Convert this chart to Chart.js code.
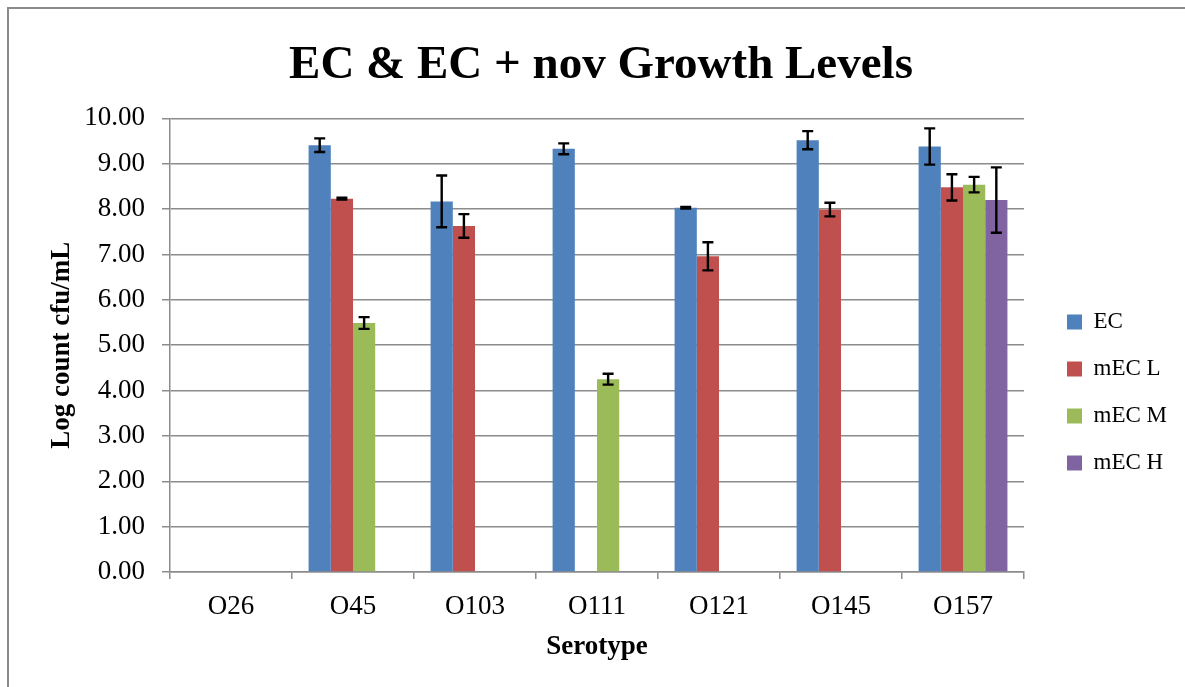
<!DOCTYPE html>
<html>
<head>
<meta charset="utf-8">
<script src="https://cdn.jsdelivr.net/npm/chart.js@4.4.1/dist/chart.umd.min.js"></script>
<style>
  html, body { margin: 0; padding: 0; background: #fff; }
  #frame { position: absolute; left: 7px; top: 7px; right: -4px; bottom: -4px;
           border-left: 2px solid #8a8a8a; border-top: 2px solid #8a8a8a; }
  #wrap { position: absolute; left: 0; top: 0; width: 1185px; height: 687px; }
</style>
</head>
<body>
<div id="frame"></div>
<div id="wrap"><canvas id="chart"></canvas></div>
<script>
// Values
const serotypes = ['O26', 'O45', 'O103', 'O111', 'O121', 'O145', 'O157'];
const ecValues   = [null, 9.41, 8.17, 9.33, 8.03, 9.52, 9.38];
const ecErr      = [null, 0.15, 0.57, 0.12, 0.02, 0.20, 0.40];
const meclValues = [null, 8.23, 7.63, null, 6.96, 7.99, 8.48];
const meclErr    = [null, 0.02, 0.26, null, 0.31, 0.15, 0.29];
const mecmValues = [null, 5.49, null, 4.25, null, null, 8.54];
const mecmErr    = [null, 0.13, null, 0.12, null, null, 0.17];
const mechValues = [null, null, null, null, null, null, 8.20];
const mechErr    = [null, null, null, null, null, null, 0.72];
const yTicks = [0, 1, 2, 3, 4, 5, 6, 7, 8, 9, 10];

const serif = '"Liberation Serif", "Times New Roman", serif';

// Draw +/- error bars using the chart's own y scale
const errorBars = {
  id: 'errorBars',
  afterDatasetsDraw(chart) {
    const ctx = chart.ctx;
    const y = chart.scales.y;
    ctx.save();
    ctx.strokeStyle = '#000';
    ctx.lineWidth = 2.4;
    chart.data.datasets.forEach((ds, di) => {
      const meta = chart.getDatasetMeta(di);
      meta.data.forEach((bar, i) => {
        const v = ds.data[i], e = ds.errors[i];
        if (v == null || e == null) return;
        const top = y.getPixelForValue(v + e);
        const bot = y.getPixelForValue(v - e);
        const cap = 5.5;
        ctx.beginPath();
        ctx.moveTo(bar.x, top); ctx.lineTo(bar.x, bot);
        ctx.moveTo(bar.x - cap, top); ctx.lineTo(bar.x + cap, top);
        ctx.moveTo(bar.x - cap, bot); ctx.lineTo(bar.x + cap, bot);
        ctx.stroke();
      });
    });
    ctx.restore();
  }
};

// nudge title and legend to where the original has them
const boxShift = {
  id: 'boxShift',
  afterLayout(chart) {
    if (chart.legend) {
      chart.legend.left += 19; chart.legend.right += 19;
      chart.legend.top += 49; chart.legend.bottom += 49;
    }
    if (chart.titleBlock) { chart.titleBlock.left += 17; chart.titleBlock.right += 17; }
  }
};

const mk = (label, data, errors, color) => ({
  label, data, errors, backgroundColor: color, borderWidth: 0,
  barPercentage: 1.0, categoryPercentage: 0.728
});

new Chart(document.getElementById('chart'), {
  type: 'bar',
  data: {
    labels: serotypes,
    datasets: [
      mk('EC', ecValues, ecErr, '#4f81bd'),
      mk('mEC L', meclValues, meclErr, '#c0504d'),
      mk('mEC M', mecmValues, mecmErr, '#9bbb59'),
      mk('mEC H', mechValues, mechErr, '#8064a2')
    ]
  },
  options: {
    responsive: true, maintainAspectRatio: false, animation: false,
    layout: { padding: { left: 10, right: 27, top: 0, bottom: 0 } },
    plugins: {
      title: {
        display: true, text: 'EC & EC + nov Growth Levels', color: '#000',
        font: { family: serif, size: 47, weight: 'bold' },
        padding: { top: 38, bottom: 24 }
      },
      legend: {
        position: 'right',
        labels: { color: '#000', boxWidth: 15, boxHeight: 15, padding: 24,
                  font: { family: serif, size: 23 } }
      },
      tooltip: { enabled: false }
    },
    scales: {
      x: {
        grid: { drawOnChartArea: false, drawTicks: true, tickLength: 7, color: '#8c8c8c', lineWidth: 1.5 },
        border: { color: '#8c8c8c', width: 1.5 },
        ticks: { color: '#000', padding: 12, font: { family: serif, size: 27 } },
        title: { display: true, text: 'Serotype', color: '#000',
                 font: { family: serif, size: 27, weight: 'bold' }, padding: { top: 0, bottom: 24 } },
        afterFit(scale) { scale.height = 115; }
      },
      y: {
        min: 0, max: 10,
        afterBuildTicks(scale) { scale.ticks = yTicks.map(v => ({ value: v })); },
        grid: { color: '#8c8c8c', lineWidth: 1.5, tickLength: 8 },
        border: { color: '#8c8c8c', width: 1.5 },
        ticks: { color: '#000', padding: 17, font: { family: serif, size: 27 },
                 callback: v => Number(v).toFixed(2) },
        title: { display: true, text: 'Log count cfu/mL', color: '#000',
                 font: { family: serif, size: 27, weight: 'bold' }, padding: { top: 36, bottom: 36 } },
        afterFit(scale) { scale.width = 160; }
      }
    }
  },
  plugins: [errorBars, boxShift]
});
</script>
</body>
</html>
